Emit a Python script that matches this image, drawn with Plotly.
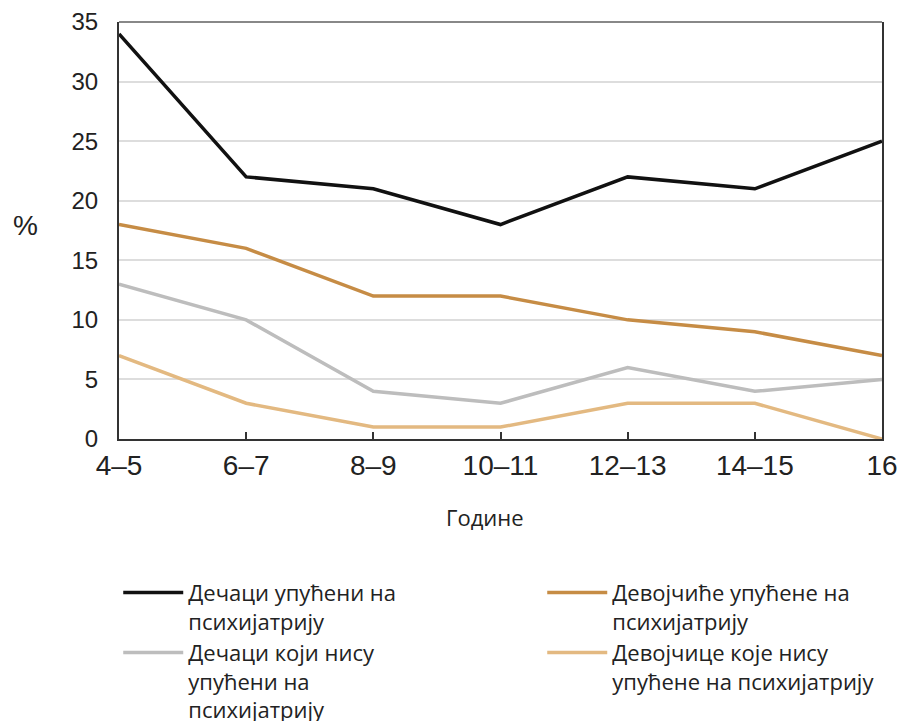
import plotly.graph_objects as go

ages = ["4–5", "6–7", "8–9", "10–11", "12–13", "14–15", "16"]
boys_referred = [34, 22, 21, 18, 22, 21, 25]
girls_referred = [18, 16, 12, 12, 10, 9, 7]
boys_not = [13, 10, 4, 3, 6, 4, 5]
girls_not = [7, 3, 1, 1, 3, 3, 0]

names = [
    "Дечаци упућени на<br>психијатрију",
    "Девојчиће упућене на<br>психијатрију",
    "Дечаци који нису<br>упућени на<br>психијатрију",
    "Девојчице које нису<br>упућене на психијатрију",
]
series = [boys_referred, girls_referred, boys_not, girls_not]
colors = ["#111111", "#c68c45", "#bdbdbd", "#e3b981"]
entry_w = [349, 270, 349, 270]

fig = go.Figure()
for n, s, c, w in zip(names, series, colors, entry_w):
    fig.add_trace(go.Scatter(x=list(range(len(ages))), y=s, mode="lines", name=n,
                             line=dict(color=c, width=3.5), legendwidth=w))

fig.update_layout(
    width=901, height=721,
    margin=dict(l=119, r=19, t=22, b=282, autoexpand=False),
    plot_bgcolor="white", paper_bgcolor="white",
    font=dict(family="Liberation Sans, Arial", color="#222"),
    showlegend=True,
    legend=dict(orientation="h", xref="paper", x=-0.001, xanchor="left",
                yref="paper", y=-0.318, yanchor="top",
                entrywidthmode="pixels", valign="top",
                font=dict(size=22, family="Open Sans"),
                itemwidth=60, tracegroupgap=0),
    xaxis=dict(range=[0, 6], tickmode="array", tickvals=list(range(len(ages))), ticktext=ages,
               showgrid=False, showline=True, linecolor="#333", linewidth=2, mirror=False,
               ticks="inside", ticklen=7, tickcolor="#333", tickwidth=2,
               tickfont=dict(size=28, color="#222"), zeroline=False),
    yaxis=dict(range=[0, 35], dtick=5, showgrid=True, gridcolor="#dddddd", gridwidth=2,
               showline=True, linecolor="#333", linewidth=2, mirror=True,
               ticks="", ticklabelstandoff=14, tickfont=dict(size=24, color="#222"),
               zeroline=False),
    shapes=[dict(type="line", xref="paper", yref="paper", x0=0, x1=1, y0=1, y1=1,
                 line=dict(color="#888888", width=2))],
    annotations=[
        dict(text="%", xref="paper", yref="paper", x=-0.123, y=0.513,
             xanchor="center", yanchor="middle",
             showarrow=False, font=dict(size=28, color="#222")),
        dict(text="Године", xref="paper", yref="paper", x=0.48, y=-0.187,
             xanchor="center", yanchor="middle",
             showarrow=False, font=dict(size=22, family="Open Sans", color="#222")),
    ],
)

fig.write_html("out.html", config={"displayModeBar": False},
               post_script="document.body.style.margin='0';document.body.style.overflow='hidden';")
